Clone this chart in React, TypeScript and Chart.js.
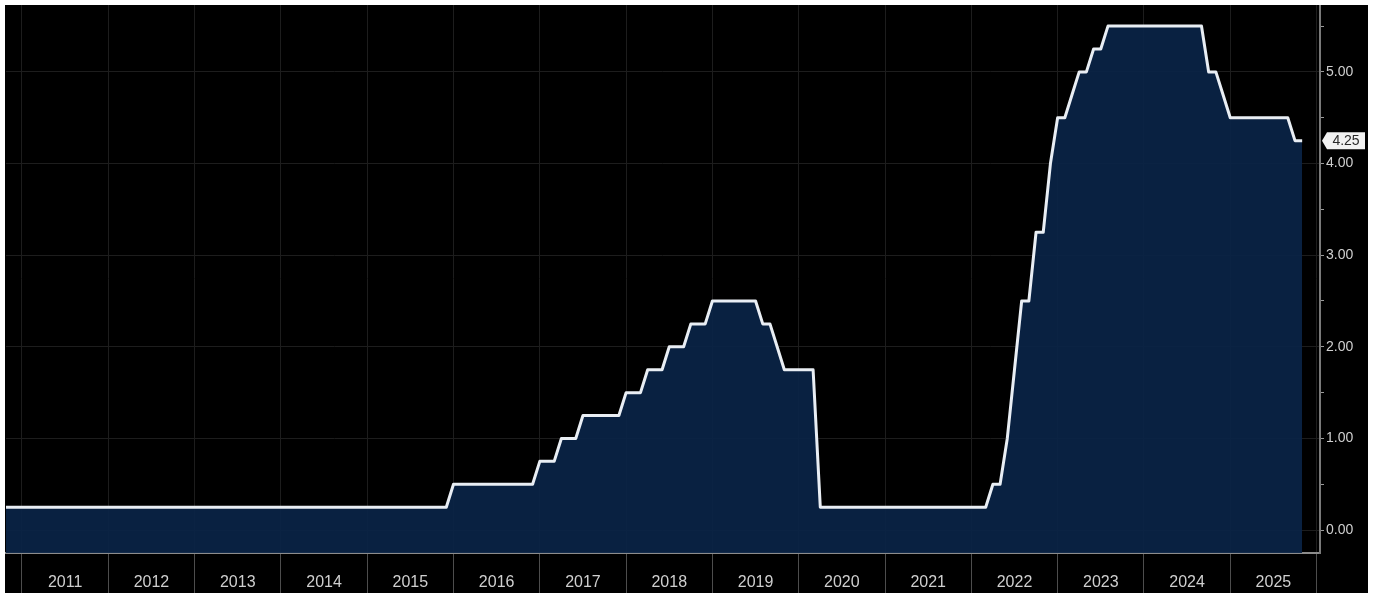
import React, { useEffect, useRef } from 'react';
import { Chart, registerables } from 'chart.js';

Chart.register(...registerables);

// Fed funds target (upper bound), month-end values, %.
const firstYear = 2010;
const firstMonth = 9; // September 2010
const rates2010 = [0.25, 0.25, 0.25, 0.25];
const rates2011 = [0.25, 0.25, 0.25, 0.25, 0.25, 0.25, 0.25, 0.25, 0.25, 0.25, 0.25, 0.25];
const rates2012 = [0.25, 0.25, 0.25, 0.25, 0.25, 0.25, 0.25, 0.25, 0.25, 0.25, 0.25, 0.25];
const rates2013 = [0.25, 0.25, 0.25, 0.25, 0.25, 0.25, 0.25, 0.25, 0.25, 0.25, 0.25, 0.25];
const rates2014 = [0.25, 0.25, 0.25, 0.25, 0.25, 0.25, 0.25, 0.25, 0.25, 0.25, 0.25, 0.25];
const rates2015 = [0.25, 0.25, 0.25, 0.25, 0.25, 0.25, 0.25, 0.25, 0.25, 0.25, 0.25, 0.5];
const rates2016 = [0.5, 0.5, 0.5, 0.5, 0.5, 0.5, 0.5, 0.5, 0.5, 0.5, 0.5, 0.75];
const rates2017 = [0.75, 0.75, 1.0, 1.0, 1.0, 1.25, 1.25, 1.25, 1.25, 1.25, 1.25, 1.5];
const rates2018 = [1.5, 1.5, 1.75, 1.75, 1.75, 2.0, 2.0, 2.0, 2.25, 2.25, 2.25, 2.5];
const rates2019 = [2.5, 2.5, 2.5, 2.5, 2.5, 2.5, 2.25, 2.25, 2.0, 1.75, 1.75, 1.75];
const rates2020 = [1.75, 1.75, 0.25, 0.25, 0.25, 0.25, 0.25, 0.25, 0.25, 0.25, 0.25, 0.25];
const rates2021 = [0.25, 0.25, 0.25, 0.25, 0.25, 0.25, 0.25, 0.25, 0.25, 0.25, 0.25, 0.25];
const rates2022 = [0.25, 0.25, 0.5, 0.5, 1.0, 1.75, 2.5, 2.5, 3.25, 3.25, 4.0, 4.5];
const rates2023 = [4.5, 4.75, 5.0, 5.0, 5.25, 5.25, 5.5, 5.5, 5.5, 5.5, 5.5, 5.5];
const rates2024 = [5.5, 5.5, 5.5, 5.5, 5.5, 5.5, 5.5, 5.5, 5.0, 5.0, 4.75, 4.5];
const rates2025 = [4.5, 4.5, 4.5, 4.5, 4.5, 4.5, 4.5, 4.5, 4.25, 4.25];

const monthlyRates = [
  ...rates2010, ...rates2011, ...rates2012, ...rates2013, ...rates2014, ...rates2015,
  ...rates2016, ...rates2017, ...rates2018, ...rates2019, ...rates2020, ...rates2021,
  ...rates2022, ...rates2023, ...rates2024, ...rates2025,
];

const yearLabels = ['2011', '2012', '2013', '2014', '2015', '2016', '2017', '2018', '2019', '2020', '2021', '2022', '2023', '2024', '2025'];
const yTickValues = [0, 1, 2, 3, 4, 5];
const yMinorTickValues = [0.5, 1.5, 2.5, 3.5, 4.5, 5.5];

const X_MIN = 2010.815;
const X_MAX = 2026.04;
const Y_MIN = -0.25;
const Y_MAX = 5.73;

const FONT = '"Liberation Sans", Arial, sans-serif';

const lastValuePlugin = {
  id: 'lastValueTag',
  afterDraw(chart: any) {
    const v = monthlyRates[monthlyRates.length - 1];
    const y = chart.scales.y.getPixelForValue(v);
    const ctx = chart.ctx;
    const x0 = chart.chartArea.right + 2;
    const tip = 5;
    const w = 43;
    const h = 17;
    ctx.save();
    ctx.fillStyle = '#f2f2f2';
    ctx.beginPath();
    ctx.moveTo(x0, y);
    ctx.lineTo(x0 + tip, y - h / 2);
    ctx.lineTo(x0 + w, y - h / 2);
    ctx.lineTo(x0 + w, y + h / 2);
    ctx.lineTo(x0 + tip, y + h / 2);
    ctx.closePath();
    ctx.fill();
    ctx.fillStyle = '#2a2a2a';
    ctx.font = `14px ${FONT}`;
    ctx.textAlign = 'center';
    ctx.textBaseline = 'middle';
    ctx.fillText(v.toFixed(2), x0 + tip + (w - tip) / 2, y + 1);
    ctx.restore();
  },
};

export default function App() {
  const canvasRef = useRef<HTMLCanvasElement | null>(null);

  useEffect(() => {
    const canvas = canvasRef.current;
    if (!canvas) return;

    const points = monthlyRates.map((r, i) => ({
      x: firstYear + (firstMonth + i) / 12,
      y: r,
    }));

    const xTicks: number[] = [];
    yearLabels.forEach((lab) => {
      const yr = Number(lab);
      xTicks.push(yr);
      xTicks.push(yr + 0.5);
    });
    xTicks.push(Number(yearLabels[yearLabels.length - 1]) + 1);

    const chart = new Chart(canvas, {
      type: 'line',
      data: {
        datasets: [
          {
            data: points,
            borderColor: '#e9eef4',
            borderWidth: 3,
            backgroundColor: 'rgba(10, 36, 70, 0.93)',
            fill: 'start',
            pointRadius: 0,
            tension: 0,
            borderJoinStyle: 'round',
          } as any,
        ],
      },
      plugins: [lastValuePlugin],
      options: {
        animation: false,
        responsive: false,
        maintainAspectRatio: false,
        events: [],
        layout: { padding: { left: 1, top: 0, right: 0, bottom: 0 } },
        plugins: {
          legend: { display: false },
          tooltip: { enabled: false },
        },
        scales: {
          x: {
            type: 'linear',
            position: 'bottom',
            min: X_MIN,
            max: X_MAX,
            afterBuildTicks: (scale: any) => {
              scale.ticks = xTicks.map((v) => ({ value: v }));
            },
            afterFit: (scale: any) => {
              scale.height = 40;
              scale.paddingLeft = 0;
              scale.paddingRight = 0;
            },
            grid: {
              color: (ctx: any) => (ctx.tick && Number.isInteger(ctx.tick.value) ? '#1d1d1d' : 'rgba(0,0,0,0)'),
              tickColor: (ctx: any) => (ctx.tick && Number.isInteger(ctx.tick.value) ? '#4d4d4d' : 'rgba(0,0,0,0)'),
              tickLength: 40,
              lineWidth: 1,
            },
            border: { color: '#8c8c8c', width: 2 },
            ticks: {
              autoSkip: false,
              maxRotation: 0,
              minRotation: 0,
              padding: -20,
              color: '#cfcfcf',
              font: { family: FONT, size: 16 },
              callback: (v: any) => (Number.isInteger(v) ? '' : String(Math.floor(v))),
            },
          },
          y: {
            type: 'linear',
            position: 'right',
            min: Y_MIN,
            max: Y_MAX,
            afterBuildTicks: (scale: any) => {
              const all = [...yTickValues, ...yMinorTickValues].sort((a, b) => a - b);
              scale.ticks = all.map((v) => ({ value: v }));
            },
            afterFit: (scale: any) => {
              scale.width = 48;
              scale.paddingTop = 0;
              scale.paddingBottom = 0;
            },
            grid: {
              color: (ctx: any) => (ctx.tick && Number.isInteger(ctx.tick.value) ? '#1d1d1d' : 'rgba(0,0,0,0)'),
              tickColor: '#9a9a9a',
              tickLength: 4,
              lineWidth: 1,
            },
            border: { color: '#7a7a7a', width: 2 },
            ticks: {
              padding: 2,
              color: '#cfcfcf',
              font: { family: FONT, size: 14 },
              callback: (v: any) => (Number.isInteger(v) ? Number(v).toFixed(2) : ''),
            },
          },
        },
      },
    });

    return () => {
      chart.destroy();
    };
  }, []);

  return (
    <div
      style={{
        position: 'fixed',
        left: 0,
        top: 0,
        width: 1375,
        height: 593,
        background: '#ffffff',
        overflow: 'hidden',
      }}
    >
      <div
        style={{
          position: 'absolute',
          left: 5,
          top: 5,
          width: 1363,
          height: 588,
          background: '#000000',
        }}
      >
        <canvas ref={canvasRef} width={1363} height={588} style={{ display: 'block', width: 1363, height: 588 }} />
      </div>
    </div>
  );
}
